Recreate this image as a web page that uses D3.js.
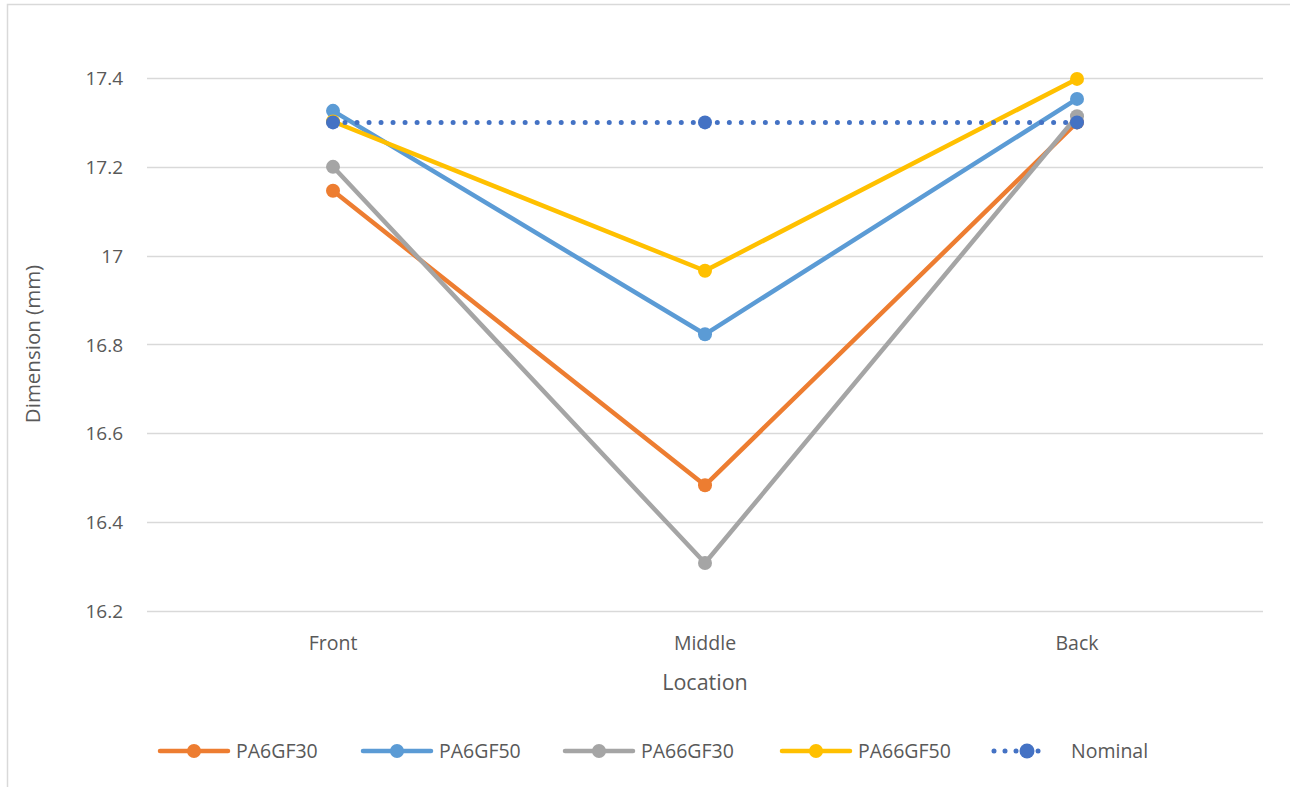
<!DOCTYPE html>
<html>
<head>
<meta charset="utf-8">
<script src="https://cdn.jsdelivr.net/npm/d3@7"></script>
<style>
  html, body { margin: 0; padding: 0; background: #fff; }
  svg { display: block; font-family: "Open Sans", "Liberation Sans", sans-serif; }
</style>
</head>
<body>
<svg id="chart" width="1290" height="787"></svg>
<script>
// Measurement locations along the part
const locations = ["Front", "Middle", "Back"];

// Measured dimension (mm) for each material at each location
const pa6gf30  = [17.146, 16.483, 17.300];
const pa6gf50  = [17.326, 16.823, 17.353];
const pa66gf30 = [17.200, 16.308, 17.314];
const pa66gf50 = [17.302, 16.966, 17.398];
const nominal  = [17.300, 17.300, 17.300];

const seriesNames = ["PA6GF30", "PA6GF50", "PA66GF30", "PA66GF50", "Nominal"];
const yTicks = [16.2, 16.4, 16.6, 16.8, 17, 17.2, 17.4];

const series = [
  { name: seriesNames[0], values: pa6gf30,  color: "#ED7D31", dotted: false },
  { name: seriesNames[1], values: pa6gf50,  color: "#5B9BD5", dotted: false },
  { name: seriesNames[2], values: pa66gf30, color: "#A5A5A5", dotted: false },
  { name: seriesNames[3], values: pa66gf50, color: "#FFC000", dotted: false },
  { name: seriesNames[4], values: nominal,  color: "#4472C4", dotted: true }
];

const svg = d3.select("#chart");

// Chart area frame (only left/top edges fall inside the canvas)
svg.append("rect")
  .attr("x", 7.5).attr("y", 4.5)
  .attr("width", 1400).attr("height", 900)
  .attr("fill", "none").attr("stroke", "#d9d9d9").attr("stroke-width", 1.5);

const plot = { left: 147, right: 1263, top: 78, bottom: 611 };

const x = d3.scaleBand().domain(locations).range([plot.left, plot.right]);
const y = d3.scaleLinear().domain([16.2, 17.4]).range([plot.bottom, plot.top]);
const cx = d => x(d) + x.bandwidth() / 2;

// Horizontal gridlines
svg.append("g")
  .selectAll("line")
  .data(yTicks)
  .join("line")
  .attr("x1", plot.left).attr("x2", plot.right)
  .attr("y1", d => Math.round(y(d)) + 0.5).attr("y2", d => Math.round(y(d)) + 0.5)
  .attr("stroke", "#d9d9d9").attr("stroke-width", 1.5);

// Y axis labels
const yAxis = d3.axisLeft(y).tickValues(yTicks).tickSize(0).tickPadding(0)
  .tickFormat(d => d3.format("")(d));
svg.append("g")
  .attr("transform", `translate(${123},0)`)
  .call(yAxis)
  .call(g => g.select(".domain").remove())
  .call(g => g.attr("font-size", null).attr("font-family", null))
  .call(g => g.selectAll("text")
    .attr("fill", "#595959").attr("font-size", 19).attr("dy", "0.35em"));

// X axis labels
const xAxis = d3.axisBottom(x).tickSize(0).tickPadding(0);
svg.append("g")
  .attr("transform", `translate(0,${643})`)
  .call(xAxis)
  .call(g => g.select(".domain").remove())
  .call(g => g.attr("font-size", null).attr("font-family", null))
  .call(g => g.selectAll("text")
    .attr("fill", "#595959").attr("font-size", 19.5).attr("dy", "0.35em").attr("y", 0));

// Axis titles
svg.append("text")
  .attr("x", 705).attr("y", 682).attr("dy", "0.35em")
  .attr("text-anchor", "middle").attr("fill", "#595959").attr("font-size", 21.5)
  .text("Location");

svg.append("text")
  .attr("transform", `translate(33,344) rotate(-90)`)
  .attr("dy", "0.35em")
  .attr("text-anchor", "middle").attr("fill", "#595959").attr("font-size", 20.5)
  .text("Dimension (mm)");

// Series lines and markers
const line = d3.line()
  .x((d, i) => cx(locations[i]))
  .y(d => y(d));

series.forEach(s => {
  const g = svg.append("g");
  g.append("path")
    .attr("d", line(s.values))
    .attr("fill", "none")
    .attr("stroke", s.color)
    .attr("stroke-width", s.dotted ? 5 : 4.5)
    .attr("stroke-linecap", "round")
    .attr("stroke-linejoin", "round")
    .attr("stroke-dasharray", s.dotted ? "0.01 12" : null);
  g.selectAll("circle")
    .data(s.values)
    .join("circle")
    .attr("cx", (d, i) => cx(locations[i]))
    .attr("cy", d => y(d))
    .attr("r", 7)
    .attr("fill", s.color);
});

// Legend
const legendX = [158, 361, 563, 780, 992];
const legendY = 751;
const legend = svg.append("g");
series.forEach((s, i) => {
  const g = legend.append("g").attr("transform", `translate(${legendX[i]},${legendY})`);
  g.append("line")
    .attr("x1", 2).attr("x2", s.dotted ? 57 : 70)
    .attr("y1", 0).attr("y2", 0)
    .attr("stroke", s.color)
    .attr("stroke-width", s.dotted ? 5 : 4.5)
    .attr("stroke-linecap", "round")
    .attr("stroke-dasharray", s.dotted ? "0.01 11" : null);
  g.append("circle")
    .attr("cx", s.dotted ? 35 : 36).attr("cy", 0).attr("r", s.dotted ? 7.5 : 7)
    .attr("fill", s.color);
  g.append("text")
    .attr("x", s.dotted ? 79 : 78).attr("y", 0).attr("dy", "0.35em")
    .attr("fill", "#595959").attr("font-size", 19.5)
    .text(s.name);
});
</script>
</body>
</html>
